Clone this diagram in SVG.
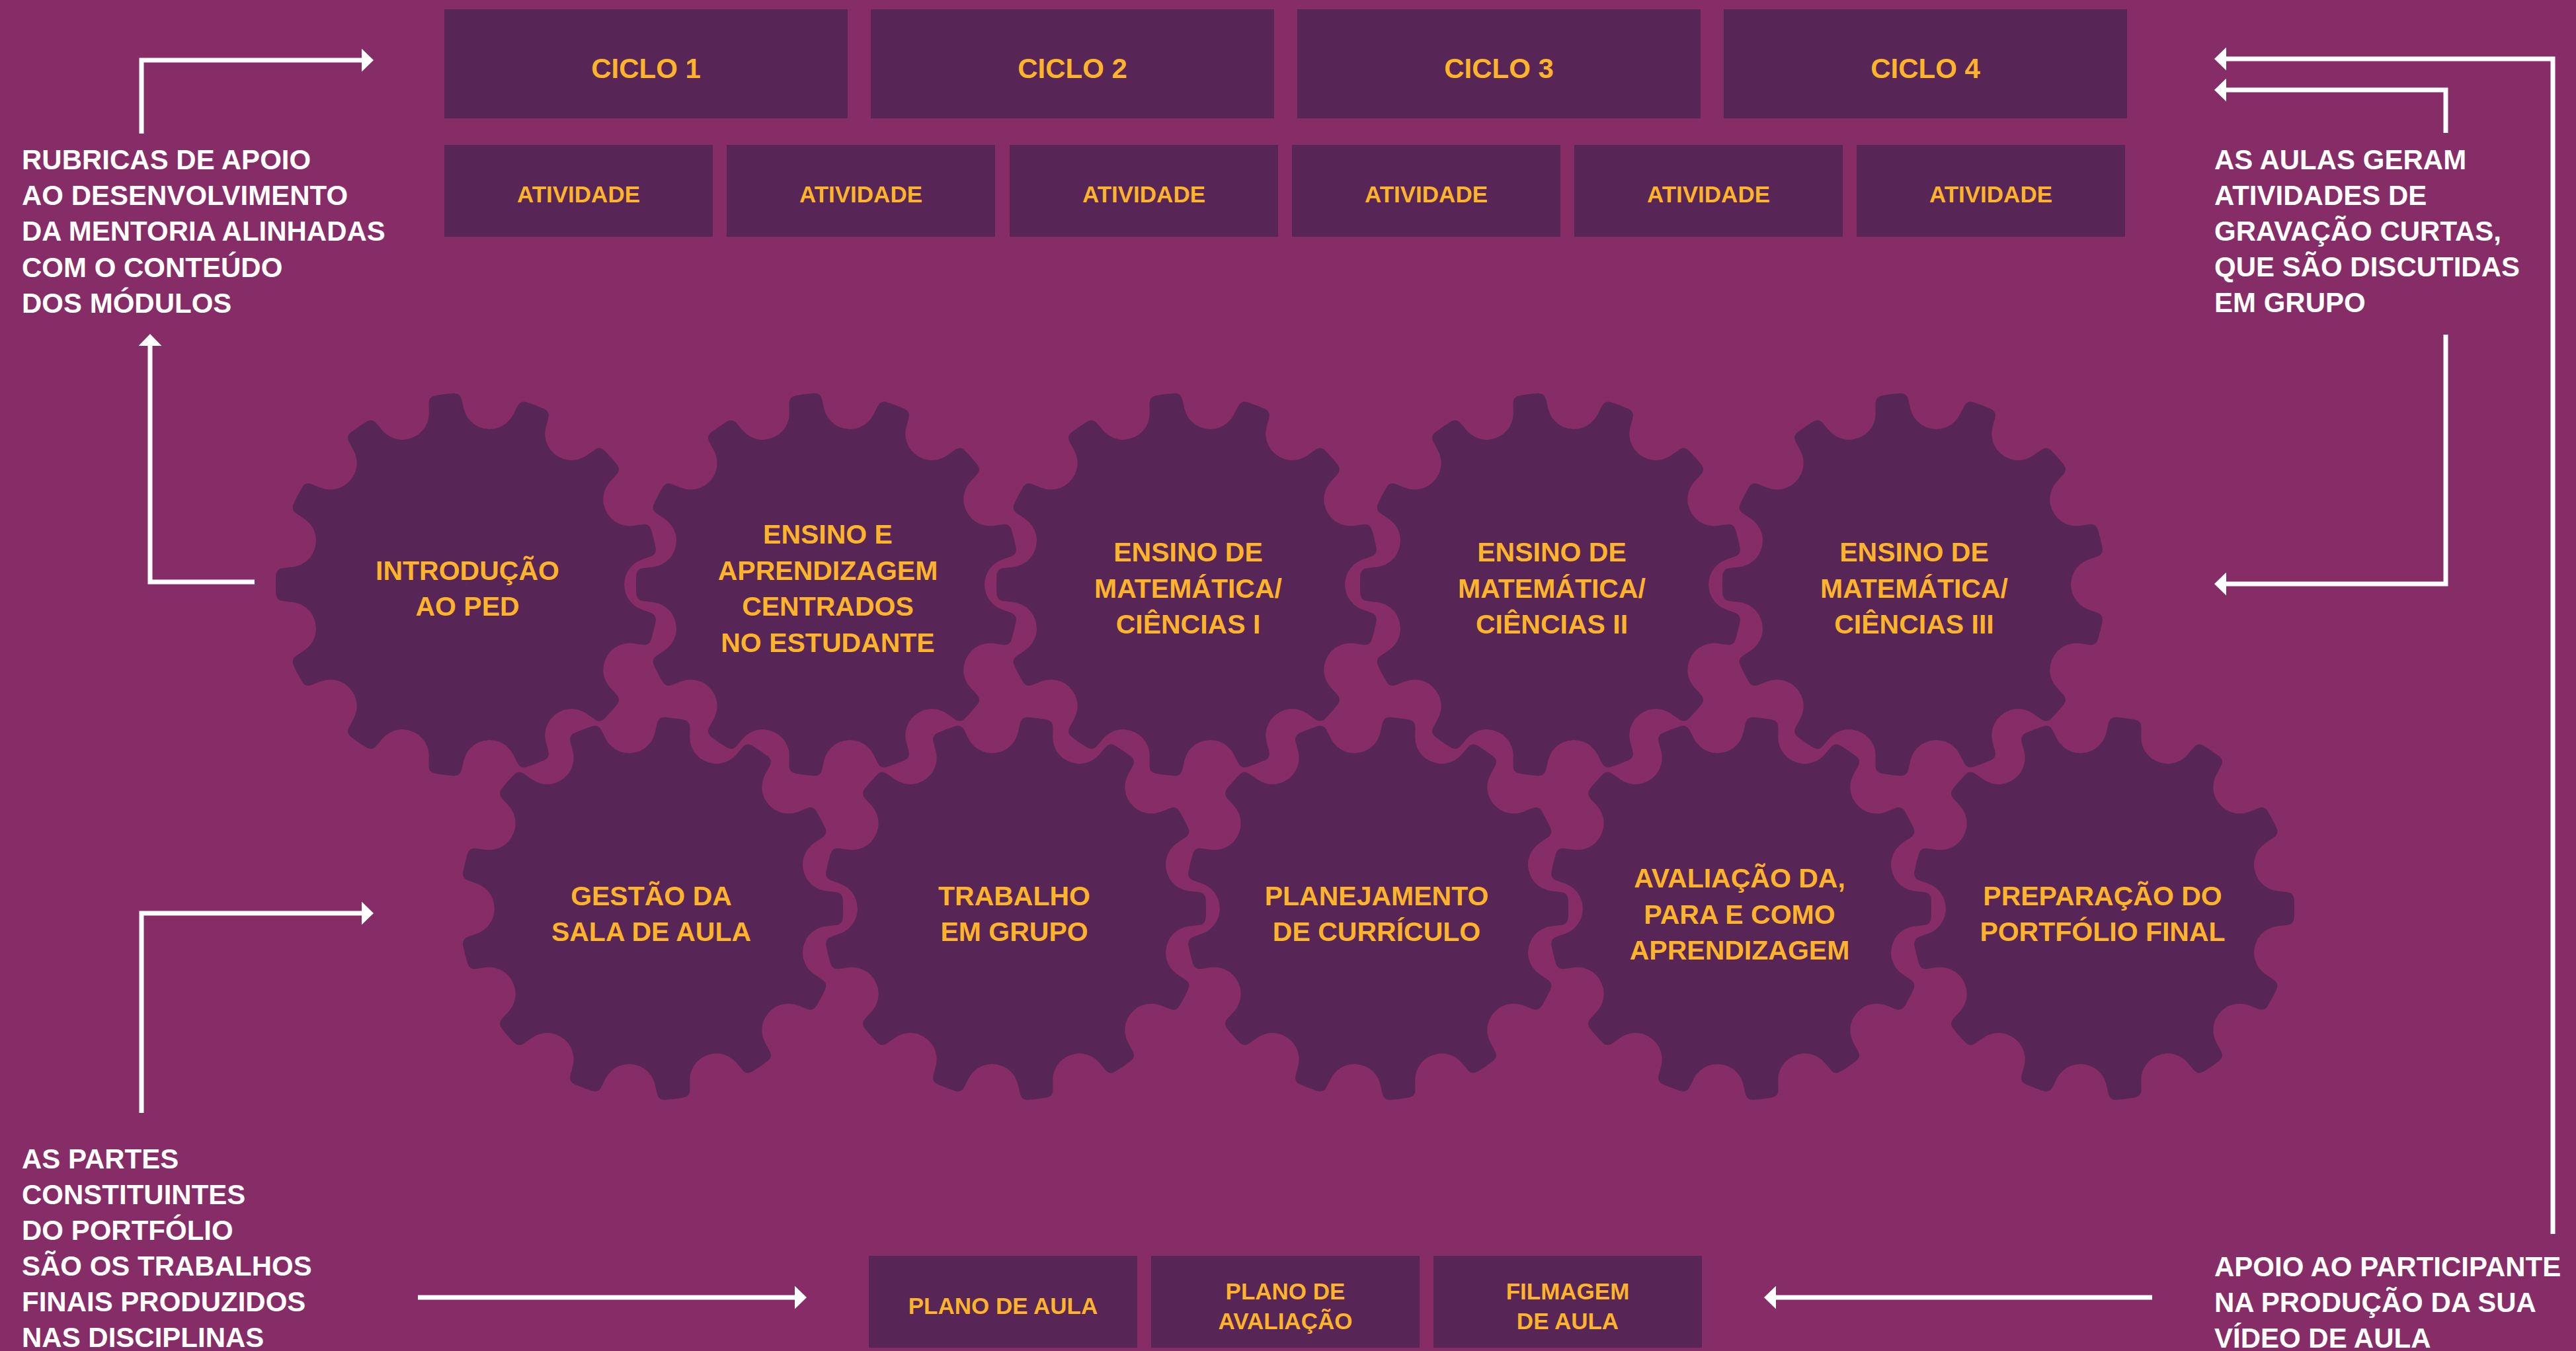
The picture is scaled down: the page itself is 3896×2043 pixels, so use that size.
<svg xmlns="http://www.w3.org/2000/svg" width="3896" height="2043" viewBox="0 0 3896 2043">
<style>
.box{fill:#582557}
.yl{fill:#FDB42A;font-family:"Liberation Sans",Arial,sans-serif;font-weight:bold;text-anchor:middle}
.g{font-size:41px}
.b{font-size:35px}
.c{font-size:42px}
.wt{fill:#FFFFFF;font-family:"Liberation Sans",Arial,sans-serif;font-weight:bold;font-size:42px}
.ar{fill:none;stroke:#FFFFFF;stroke-width:7;stroke-linejoin:miter;marker-end:url(#ah)}
.gbg{fill:#862C67;stroke:#862C67;stroke-width:14;stroke-linejoin:round}
.gfg{fill:#582557}
</style>
<defs>
<marker id="ah" viewBox="0 0 18 35" refX="0" refY="17.5" markerWidth="18" markerHeight="35" markerUnits="userSpaceOnUse" orient="auto">
<path d="M0,0 L18,17.5 L0,35 z" fill="#FFFFFF"/>
</marker>
<path id="tooth" d="M0,0 L228.96,67.09 A40,40 0 0,1 264.83,26.51 L279.06,25.03 Q289.01,24 289.66,14.02 A290,290 0 0,0 289.66,-14.02 Q289.01,-24 279.06,-25.03 L264.83,-26.51 A40,40 0 0,1 228.96,-67.09 Z"/>
<g id="teeth">
<use href="#tooth" transform="rotate(13.846)"/>
<use href="#tooth" transform="rotate(41.538)"/>
<use href="#tooth" transform="rotate(69.231)"/>
<use href="#tooth" transform="rotate(96.923)"/>
<use href="#tooth" transform="rotate(124.615)"/>
<use href="#tooth" transform="rotate(152.308)"/>
<use href="#tooth" transform="rotate(180)"/>
<use href="#tooth" transform="rotate(207.692)"/>
<use href="#tooth" transform="rotate(235.385)"/>
<use href="#tooth" transform="rotate(263.077)"/>
<use href="#tooth" transform="rotate(290.769)"/>
<use href="#tooth" transform="rotate(318.462)"/>
<use href="#tooth" transform="rotate(346.154)"/>
</g>
<g id="gear">
<g class="gbg"><use href="#teeth"/></g>
<g class="gfg"><use href="#teeth"/></g>
</g>
</defs>

<rect x="0" y="0" width="3896" height="2043" fill="#862C67"/>

<g id="ciclos">
<g id="ciclo-1"><rect class="box" x="672" y="14" width="610" height="165"/><text class="yl c" x="977" y="118">CICLO 1</text></g>
<g id="ciclo-2"><rect class="box" x="1317" y="14" width="610" height="165"/><text class="yl c" x="1622" y="118">CICLO 2</text></g>
<g id="ciclo-3"><rect class="box" x="1962" y="14" width="610" height="165"/><text class="yl c" x="2267" y="118">CICLO 3</text></g>
<g id="ciclo-4"><rect class="box" x="2607" y="14" width="610" height="165"/><text class="yl c" x="2912" y="118">CICLO 4</text></g>
</g>

<g id="atividades">
<g id="atividade-1"><rect class="box" x="672" y="219" width="406" height="139"/><text class="yl b" x="875" y="306">ATIVIDADE</text></g>
<g id="atividade-2"><rect class="box" x="1099" y="219" width="406" height="139"/><text class="yl b" x="1302" y="306">ATIVIDADE</text></g>
<g id="atividade-3"><rect class="box" x="1527" y="219" width="406" height="139"/><text class="yl b" x="1730" y="306">ATIVIDADE</text></g>
<g id="atividade-4"><rect class="box" x="1954" y="219" width="406" height="139"/><text class="yl b" x="2157" y="306">ATIVIDADE</text></g>
<g id="atividade-5"><rect class="box" x="2381" y="219" width="406" height="139"/><text class="yl b" x="2584" y="306">ATIVIDADE</text></g>
<g id="atividade-6"><rect class="box" x="2808" y="219" width="406" height="139"/><text class="yl b" x="3011" y="306">ATIVIDADE</text></g>
</g>

<g id="gears">
<g id="gear-introducao" transform="translate(707,884)"><use href="#gear"/>
<text class="yl g" x="0" y="-7.5">INTRODUÇÃO</text><text class="yl g" x="0" y="47">AO PED</text></g>
<g id="gear-ensino-aprendizagem" transform="translate(1252,884)"><use href="#gear"/>
<text class="yl g" x="0" y="-62">ENSINO E</text><text class="yl g" x="0" y="-7.5">APRENDIZAGEM</text><text class="yl g" x="0" y="47">CENTRADOS</text><text class="yl g" x="0" y="101.5">NO ESTUDANTE</text></g>
<g id="gear-ciencias-1" transform="translate(1797,884)"><use href="#gear"/>
<text class="yl g" x="0" y="-35">ENSINO DE</text><text class="yl g" x="0" y="19.5">MATEMÁTICA/</text><text class="yl g" x="0" y="74">CIÊNCIAS I</text></g>
<g id="gear-ciencias-2" transform="translate(2347,884)"><use href="#gear"/>
<text class="yl g" x="0" y="-35">ENSINO DE</text><text class="yl g" x="0" y="19.5">MATEMÁTICA/</text><text class="yl g" x="0" y="74">CIÊNCIAS II</text></g>
<g id="gear-ciencias-3" transform="translate(2895,884)"><use href="#gear"/>
<text class="yl g" x="0" y="-35">ENSINO DE</text><text class="yl g" x="0" y="19.5">MATEMÁTICA/</text><text class="yl g" x="0" y="74">CIÊNCIAS III</text></g>
<g id="gear-gestao" transform="translate(985,1374)"><use href="#gear" transform="rotate(180)"/>
<text class="yl g" x="0" y="-5">GESTÃO DA</text><text class="yl g" x="0" y="49">SALA DE AULA</text></g>
<g id="gear-trabalho" transform="translate(1534,1374)"><use href="#gear" transform="rotate(180)"/>
<text class="yl g" x="0" y="-5">TRABALHO</text><text class="yl g" x="0" y="49">EM GRUPO</text></g>
<g id="gear-planejamento" transform="translate(2082,1374)"><use href="#gear" transform="rotate(180)"/>
<text class="yl g" x="0" y="-5">PLANEJAMENTO</text><text class="yl g" x="0" y="49">DE CURRÍCULO</text></g>
<g id="gear-avaliacao" transform="translate(2631,1374)"><use href="#gear" transform="rotate(180)"/>
<text class="yl g" x="0" y="-32">AVALIAÇÃO DA,</text><text class="yl g" x="0" y="22.5">PARA E COMO</text><text class="yl g" x="0" y="77">APRENDIZAGEM</text></g>
<g id="gear-portfolio" transform="translate(3180,1374)"><use href="#gear" transform="rotate(180)"/>
<text class="yl g" x="0" y="-5">PREPARAÇÃO DO</text><text class="yl g" x="0" y="49">PORTFÓLIO FINAL</text></g>
</g>

<g id="produtos">
<g id="plano-aula"><rect class="box" x="1314" y="1899" width="406" height="139"/><text class="yl b" x="1517" y="1987">PLANO DE AULA</text></g>
<g id="plano-avaliacao"><rect class="box" x="1741" y="1899" width="406" height="139"/><text class="yl b" x="1944" y="1965">PLANO DE</text><text class="yl b" x="1944" y="2010">AVALIAÇÃO</text></g>
<g id="filmagem"><rect class="box" x="2168" y="1899" width="406" height="139"/><text class="yl b" x="2371" y="1965">FILMAGEM</text><text class="yl b" x="2371" y="2010">DE AULA</text></g>
</g>

<g id="notes">
<g id="note-rubricas">
<text class="wt" x="33" y="256">RUBRICAS DE APOIO</text>
<text class="wt" x="33" y="310">AO DESENVOLVIMENTO</text>
<text class="wt" x="33" y="364">DA MENTORIA ALINHADAS</text>
<text class="wt" x="33" y="419">COM O CONTEÚDO</text>
<text class="wt" x="33" y="473">DOS MÓDULOS</text>
</g>
<g id="note-aulas">
<text class="wt" x="3349" y="256">AS AULAS GERAM</text>
<text class="wt" x="3349" y="310">ATIVIDADES DE</text>
<text class="wt" x="3349" y="364">GRAVAÇÃO CURTAS,</text>
<text class="wt" x="3349" y="418">QUE SÃO DISCUTIDAS</text>
<text class="wt" x="3349" y="472">EM GRUPO</text>
</g>
<g id="note-partes">
<text class="wt" x="33" y="1767">AS PARTES</text>
<text class="wt" x="33" y="1821">CONSTITUINTES</text>
<text class="wt" x="33" y="1875">DO PORTFÓLIO</text>
<text class="wt" x="33" y="1929">SÃO OS TRABALHOS</text>
<text class="wt" x="33" y="1983">FINAIS PRODUZIDOS</text>
<text class="wt" x="33" y="2037">NAS DISCIPLINAS</text>
</g>
<g id="note-apoio">
<text class="wt" x="3349" y="1930">APOIO AO PARTICIPANTE</text>
<text class="wt" x="3349" y="1984">NA PRODUÇÃO DA SUA</text>
<text class="wt" x="3349" y="2038">VÍDEO DE AULA</text>
</g>
</g>

<g id="connectors">
<path class="ar" d="M214,202 V91 H547"/>
<path class="ar" d="M385,880 H227 V523"/>
<path class="ar" d="M214,1683 V1381 H547"/>
<path class="ar" d="M632,1962 H1202"/>
<path class="ar" d="M3861,1866 V89 H3367"/>
<path class="ar" d="M3699,201 V136 H3367"/>
<path class="ar" d="M3699,506 V883 H3367"/>
<path class="ar" d="M3255,1962 H2686"/>
</g>
</svg>
